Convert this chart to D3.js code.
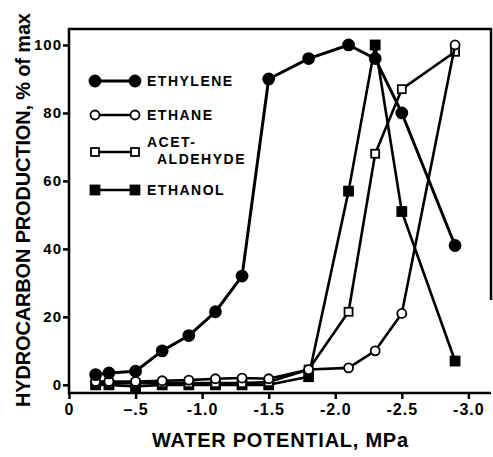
<!DOCTYPE html>
<html>
<head>
<meta charset="utf-8">
<script src="https://cdn.jsdelivr.net/npm/d3@7"></script>
<style>
  body { margin: 0; background: #fff; }
  text { font-family: "Liberation Sans", Arial, sans-serif; fill: #000; }
</style>
</head>
<body>
<div id="chart"></div>
<script>
"use strict";

// Water potential (MPa) at which each sample was taken
const potentials = [-0.2, -0.3, -0.5, -0.7, -0.9, -1.1, -1.3, -1.5, -1.8, -2.1, -2.3, -2.5, -2.9];
// Production, % of max
const ethylene = [3, 3.5, 4, 10, 14.5, 21.5, 32, 90, 96, 100, 96, 80, 41];
const ethane = [1, 1, 1, 1.2, 1.4, 1.8, 2, 1.8, 4.5, 5, 10, 21, 100];
const acetaldehyde = [0.5, 0.5, 0.5, 0.5, 0.5, 0.5, 0.5, 0.8, 4.5, 21.5, 68, 87, 98];
const ethanol = [0, 0, -0.5, 0, 0, 0, 0, 0, 2.4, 57, 100, 51, 7];

const xTicks = [0, -0.5, -1.0, -1.5, -2.0, -2.5, -3.0];
const xTickLabels = ['0', '\u2013.5', '-1.0', '-1.5', '-2.0', '-2.5', '-3.0'];
const yTicks = [0, 20, 40, 60, 80, 100];

const seriesNames = ['ETHYLENE', 'ETHANE', 'ACET-|ALDEHYDE', 'ETHANOL'];
const seriesMarks = ['circle', 'circle', 'square', 'square'];
const seriesFilled = [true, false, false, true];
const seriesValues = [ethylene, ethane, acetaldehyde, ethanol];

const width = 493, height = 457;
const svg = d3.select('#chart').append('svg')
    .attr('width', width)
    .attr('height', height);

// Frame edges sit a bit past the labelled range, as in the figure
let x = d3.scaleLinear().domain([0, -3.17]).range([69, 491]);
let y = d3.scaleLinear().domain([-2.4, 104.7]).range([393, 29]);

// Axes: ticks point outward, no domain path (frame drawn below)
let xAxis = d3.axisBottom(x).tickValues(xTicks)
    .tickFormat(function (d, i) { return xTickLabels[i]; })
    .tickSize(6).tickPadding(5);
let yAxis = d3.axisLeft(y).tickValues(yTicks).tickSize(6).tickPadding(1);

let gx = svg.append('g')
    .attr('transform', 'translate(0,' + y.range()[0] + ')')
    .call(xAxis);
let gy = svg.append('g')
    .attr('transform', 'translate(' + x.range()[0] + ',0)')
    .call(yAxis);
[gx, gy].forEach(function (g) {
    g.select('.domain').remove();
    g.selectAll('line').attr('stroke', '#000').attr('stroke-width', 2.5);
    g.selectAll('text')
        .style('font-size', '16px')
        .style('font-weight', 'bold')
        .style('letter-spacing', '1px')
        .attr('fill', '#000');
});
gy.selectAll('text').style('font-size', '15px');

// Frame: left, top, bottom, and the right edge only down to ~25%
let frame = svg.append('g')
    .attr('stroke', '#000').attr('stroke-width', 2.5).attr('fill', 'none');
frame.append('path')
    .attr('d', d3.line()([
        [x.range()[1], y(25)], [x.range()[1], y.range()[1]],
        [x.range()[0], y.range()[1]], [x.range()[0], y.range()[0]],
        [x.range()[1], y.range()[0]]
    ]));

// Axis titles
svg.append('text')
    .attr('x', 280).attr('y', 447)
    .attr('text-anchor', 'middle')
    .attr('textLength', 256)
    .style('font-size', '20px').style('font-weight', 'bold')
    .text('WATER POTENTIAL, MPa');
svg.append('text')
    .attr('transform', 'translate(30,210) rotate(-90)')
    .attr('text-anchor', 'middle')
    .attr('textLength', 394)
    .style('font-size', '20px').style('font-weight', 'bold')
    .text('HYDROCARBON PRODUCTION, % of max');

function drawMarker(g, shape, filled, cx, cy) {
    if (shape === 'circle') {
        g.append('circle')
            .attr('cx', cx).attr('cy', cy)
            .attr('r', filled ? 5.5 : 4.5)
            .attr('fill', filled ? '#000' : '#fff')
            .attr('stroke', '#000').attr('stroke-width', 1.8);
    } else {
        let s = filled ? 9 : 8;
        g.append('rect')
            .attr('x', cx - s / 2).attr('y', cy - s / 2)
            .attr('width', s).attr('height', s)
            .attr('fill', filled ? '#000' : '#fff')
            .attr('stroke', '#000').attr('stroke-width', 1.8);
    }
}

let line = d3.line()
    .x(function (d) { return x(d[0]); })
    .y(function (d) { return y(d[1]); });

// Draw back to front so ethylene sits on top
for (let k = seriesValues.length - 1; k >= 0; k--) {
    let pts = potentials.map(function (p, i) { return [p, seriesValues[k][i]]; });
    let g = svg.append('g');
    g.append('path')
        .attr('d', line(pts))
        .attr('fill', 'none')
        .attr('stroke', '#000')
        .attr('stroke-width', k === 0 ? 3 : 2.6)
        .attr('stroke-linejoin', 'round');
    pts.forEach(function (p) {
        drawMarker(g, seriesMarks[k], seriesFilled[k], x(p[0]), y(p[1]));
    });
}

// Legend
let legend = svg.append('g');
let legendY = [81, 115, 152, 190];
seriesNames.forEach(function (name, k) {
    let ly = legendY[k];
    legend.append('line')
        .attr('x1', 95).attr('x2', 135)
        .attr('y1', ly).attr('y2', ly)
        .attr('stroke', '#000').attr('stroke-width', k === 0 ? 3 : 2.6);
    drawMarker(legend, seriesMarks[k], seriesFilled[k], 95, ly);
    drawMarker(legend, seriesMarks[k], seriesFilled[k], 135, ly);
    let parts = name.split('|');
    let t = legend.append('text')
        .attr('y', ly + 5 - (parts.length - 1) * 10)
        .style('font-size', '14px')
        .style('font-weight', 'bold')
        .style('letter-spacing', '1.5px');
    parts.forEach(function (p, j) {
        t.append('tspan')
            .attr('x', j === 0 ? 147 : 157)
            .attr('dy', j === 0 ? 0 : 17)
            .text(p);
    });
});
</script>
</body>
</html>
